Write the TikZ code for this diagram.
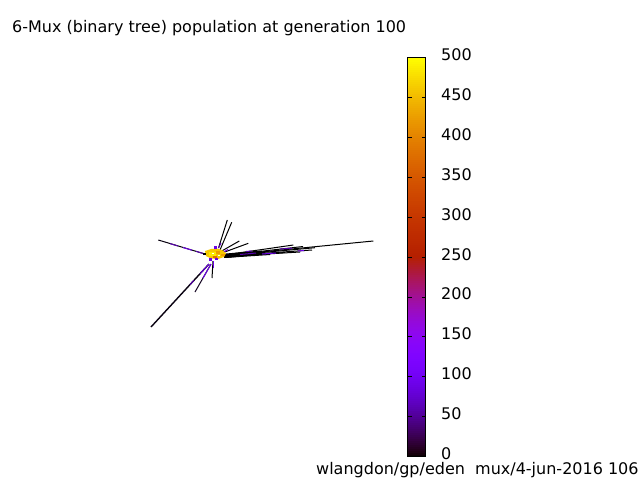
\documentclass[tikz,border=0pt]{standalone}
\usepackage{fontspec}
\setmainfont{DejaVu Sans}
\newcommand{\palset}[2]{%
  \pgfmathsetmacro{\palR}{sqrt(#2)}%
  \pgfmathsetmacro{\palG}{(#2)^3}%
  \pgfmathsetmacro{\palB}{max(0,sin(360*(#2)))}%
  \definecolor{#1}{rgb}{\palR,\palG,\palB}}
\begin{document}
\begin{tikzpicture}[x=1pt,y=-1pt,
  lbl/.style={font=\fontsize{16}{19}\selectfont,inner sep=0pt},
  seg/.style={line width=1pt},
  tickmark/.style={line width=0.8pt}]
\useasboundingbox (0,0) rectangle (640,480);
\fill[white] (0,0) rectangle (640,480);
% palette colours for the points
\palset{p05}{0.05}\palset{p10}{0.10}\palset{p20}{0.12}\palset{p28}{0.18}
\palset{p85}{0.85}\palset{p92}{0.92}\palset{p97}{0.97}\palset{p75}{0.75}
% ---- scatter of lines ----
\coordinate (c) at (214,255);
% left
\draw[seg,black!90!p10] (158.3,240) -- (205,254);
\draw[seg,p20] (170,243.6) -- (178,246);
\draw[seg,p28] (183,247.5) -- (192,250.2);
\draw[seg,p20] (196,251.3) -- (204,253.7);
% lower left long (doubled)
\draw[seg,line width=1.4pt,black!90!p10] (151,327) -- (209,264);
\draw[seg,p20] (190,284.6) -- (194,280.2);
\draw[seg,p28] (200,273.8) -- (209,264);
\draw[seg,black!80!p10] (195,292) -- (211,264);
\draw[seg,p28] (203,278) -- (211,264);
\draw[seg,black] (212,278) -- (213,261);
\draw[seg,p28] (213,268) -- (213,261);
% upward
\draw[seg,black] (227.3,220) -- (218.5,248);
\draw[seg,black] (231.7,222.3) -- (220,250);
\draw[seg,p20] (221,243) -- (218.5,248);
% upper right
\draw[seg,black] (239.3,241) -- (220,252);
\draw[seg,black] (248.3,243.3) -- (222,253);
\draw[seg,p28] (228,249.5) -- (222,253);
% right fan
\draw[seg,black] (373.3,241) -- (225,255.5);
\draw[seg,black] (293.3,245) -- (224,255);
\draw[seg,black] (303,246.5) -- (224,255.5);
\draw[seg,black] (315,247.7) -- (224,256);
\draw[seg,black] (312,250) -- (224,256);
\draw[seg,black] (300,252) -- (224,256.5);
\draw[seg,black] (285,252.5) -- (224,257);
\draw[seg,black] (270,254.5) -- (224,257.5);
\fill[black] (226,253.5) -- (262,250.5) -- (262,254.5) -- (226,258) -- cycle;
\draw[seg,p20] (240,254.5) -- (256,253);
\draw[seg,p28] (262,254) -- (276,253);
\draw[seg,p20] (280,249) -- (292,248.2);
\draw[seg,p28] (298,251) -- (304,250.5);
\draw[seg,p20] (246,251.5) -- (252,251);
% yellow core
\fill[p92] (205,251) -- (211,249) -- (217,248.5) -- (222,250) -- (226,253) -- (224,257) -- (218,259) -- (211,258.5) -- (206,256) -- cycle;
\fill[p97] (209,252) rectangle (216,256);
\fill[p85] (216,251) rectangle (220,254);
\fill[p75] (213,256) rectangle (217,258);
\fill[p85] (221,254) rectangle (225,256);
\fill[white] (212,252.5) rectangle (213.5,254);
\fill[white] (218,254.5) rectangle (219.5,256);
\fill[black] (202.5,252.5) rectangle (206,255);
\fill[p28] (209,258) rectangle (212,261);
\fill[p28] (215,257.5) rectangle (218,260);
\fill[p28] (214,246) rectangle (217,249);
% ---- colour box ----
\foreach \i in {0,...,199}{
  \pgfmathsetmacro{\xv}{(\i+0.5)/200}
  \palset{cb}{\xv}
  \fill[cb] (407.5,{456.5-\i*1.995+0.3}) rectangle (425.5,{456.5-(\i+1)*1.995-0.3});
}
\draw[line width=1pt] (407.5,57.5) rectangle (425.5,456.5);
\foreach \v in {0,...,10}{
  \pgfmathsetmacro{\yy}{456.5-\v*39.9}
  \pgfmathtruncatemacro{\lab}{50*\v}
  \draw[tickmark] (407.5,\yy) -- ++(4,0);
  \draw[tickmark] (425.5,\yy) -- ++(-4,0);
  \node[lbl,anchor=base west] (t\v) at (441,\yy+3) {\lab};
}
% ---- texts ----
\node[lbl,anchor=base west] (title) at (12,32) {6-Mux (binary tree) population at generation 100};
\node[lbl,anchor=base west] (foot) at (316,474.5) {wlangdon/gp/eden\ \ mux/4-jun-2016 106};
\end{tikzpicture}
\end{document}
